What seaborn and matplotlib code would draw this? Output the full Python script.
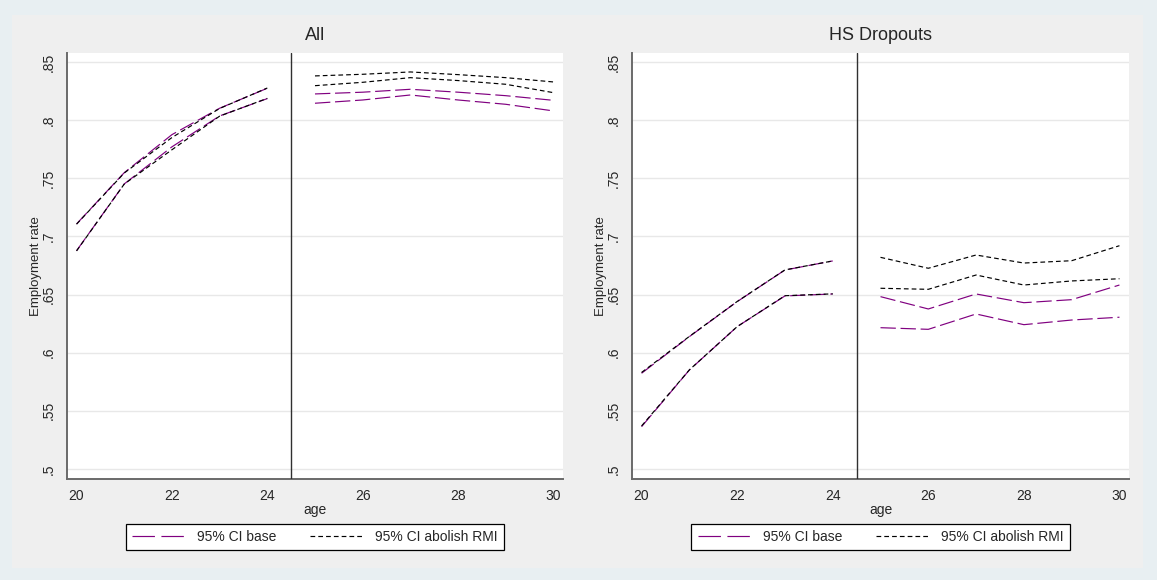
import matplotlib
matplotlib.use("Agg")
import matplotlib.pyplot as plt
from matplotlib.lines import Line2D
from matplotlib.patches import Rectangle
import seaborn as sns
import pandas as pd

# ---------------- data ----------------
ages_pre = [20, 21, 22, 23, 24]
ages_post = [25, 26, 27, 28, 29, 30]

# Panel "All"
all_base_hi_pre = [0.7107, 0.7548, 0.7875, 0.8102, 0.8274]
all_base_lo_pre = [0.6877, 0.7451, 0.7770, 0.8036, 0.8185]
all_rmi_hi_pre = [0.7105, 0.7545, 0.7850, 0.8100, 0.8276]
all_rmi_lo_pre = [0.6875, 0.7450, 0.7745, 0.8034, 0.8187]
all_base_hi_post = [0.8225, 0.8240, 0.8265, 0.8240, 0.8210, 0.8170]
all_base_lo_post = [0.8145, 0.8173, 0.8216, 0.8173, 0.8136, 0.8079]
all_rmi_hi_post = [0.8380, 0.8394, 0.8414, 0.8391, 0.8365, 0.8328]
all_rmi_lo_post = [0.8296, 0.8325, 0.8365, 0.8340, 0.8308, 0.8236]

# Panel "HS Dropouts"
hs_base_hi_pre = [0.5823, 0.6138, 0.6439, 0.6711, 0.6789]
hs_base_lo_pre = [0.5364, 0.5851, 0.6224, 0.6488, 0.6505]
hs_rmi_hi_pre = [0.5830, 0.6140, 0.6440, 0.6712, 0.6789]
hs_rmi_lo_pre = [0.5370, 0.5852, 0.6224, 0.6490, 0.6506]
hs_base_hi_post = [0.6482, 0.6376, 0.6505, 0.6430, 0.6456, 0.6582]
hs_base_lo_post = [0.6215, 0.6201, 0.6333, 0.6241, 0.6281, 0.6305]
hs_rmi_hi_post = [0.6820, 0.6726, 0.6840, 0.6771, 0.6791, 0.6920]
hs_rmi_lo_post = [0.6554, 0.6545, 0.6668, 0.6582, 0.6617, 0.6636]

titles = ["All", "HS Dropouts"]
legend_labels = ["95% CI base", "95% CI abolish RMI"]
y_ticks = [0.5, 0.55, 0.6, 0.65, 0.7, 0.75, 0.8, 0.85]
y_tick_labels = [".5", ".55", ".6", ".65", ".7", ".75", ".8", ".85"]
x_ticks = [20, 22, 24, 26, 28, 30]
cutoff_age = 24.5


def build_frame(base_hi_pre, base_lo_pre, rmi_hi_pre, rmi_lo_pre,
                base_hi_post, base_lo_post, rmi_hi_post, rmi_lo_post):
    rows = []
    spec = [
        ("base", "hi_pre", ages_pre, base_hi_pre),
        ("base", "lo_pre", ages_pre, base_lo_pre),
        ("base", "hi_post", ages_post, base_hi_post),
        ("base", "lo_post", ages_post, base_lo_post),
        ("rmi", "hi_pre", ages_pre, rmi_hi_pre),
        ("rmi", "lo_pre", ages_pre, rmi_lo_pre),
        ("rmi", "hi_post", ages_post, rmi_hi_post),
        ("rmi", "lo_post", ages_post, rmi_lo_post),
    ]
    for series, seg, ages, vals in spec:
        for a, v in zip(ages, vals):
            rows.append({"age": a, "value": v, "series": series,
                         "unit": series + "_" + seg})
    return pd.DataFrame(rows)


frames = [
    build_frame(all_base_hi_pre, all_base_lo_pre, all_rmi_hi_pre, all_rmi_lo_pre,
                all_base_hi_post, all_base_lo_post, all_rmi_hi_post, all_rmi_lo_post),
    build_frame(hs_base_hi_pre, hs_base_lo_pre, hs_rmi_hi_pre, hs_rmi_lo_pre,
                hs_base_hi_post, hs_base_lo_post, hs_rmi_hi_post, hs_rmi_lo_post),
]

# ---------------- style ----------------
sns.set_style("white")
plt.rcParams["font.family"] = ["Liberation Sans", "DejaVu Sans"]

PURPLE = "#800080"
BLACK = "#000000"
base_dash = (0, (13, 4))
rmi_dash = (0, (4, 2.6))
legend_base_dash = (0, (19, 5.5))
LW = 0.85

W, H = 1157, 580
fig = plt.figure(figsize=(W / 100, H / 100), dpi=100)
fig.patch.set_facecolor("#e8eff2")
bg = Rectangle((12 / W, 12 / H), (1143 - 12) / W, (565 - 12) / H,
               transform=fig.transFigure, facecolor="#efefef",
               edgecolor="none", zorder=-10)
fig.patches.append(bg)

ax_positions = [
    [67 / W, (580 - 479) / H, (563 - 67) / W, 426 / H],
    [632 / W, (580 - 479) / H, (1129 - 632) / W, 426 / H],
]

for i, df in enumerate(frames):
    ax = fig.add_axes(ax_positions[i])
    ax.set_zorder(1)
    ax.set_facecolor("white")

    sns.lineplot(data=df[df["series"] == "base"], x="age", y="value",
                 units="unit", estimator=None, sort=False, ax=ax,
                 color=PURPLE, linestyle=base_dash, linewidth=LW, legend=False)
    sns.lineplot(data=df[df["series"] == "rmi"], x="age", y="value",
                 units="unit", estimator=None, sort=False, ax=ax,
                 color=BLACK, linestyle=rmi_dash, linewidth=LW, legend=False)

    ax.axvline(cutoff_age, color="#303030", linewidth=1.0, zorder=3)

    ax.set_xlim(19.8, 30.2)
    ax.set_ylim(0.4914, 0.8577)
    ax.set_yticks(y_ticks)
    ax.set_yticklabels(y_tick_labels, rotation=90, va="center")
    ax.set_xticks(x_ticks)
    ax.set_xticklabels([str(t) for t in x_ticks])
    ax.grid(axis="y", color="#e8e8e8", linewidth=1.0)
    ax.grid(axis="x", visible=False)
    ax.set_axisbelow(True)

    for s in ["top", "right"]:
        ax.spines[s].set_visible(False)
    for s in ["left", "bottom"]:
        ax.spines[s].set_color("#6a6a6a")
        ax.spines[s].set_linewidth(1.4)
    ax.tick_params(axis="both", direction="out", length=5, width=1.0,
                   color="#6a6a6a", labelsize=10, pad=3)
    ax.tick_params(axis="x", pad=2)

    ax.set_xlabel("age", fontsize=10, labelpad=0)
    ax.set_ylabel("Employment rate", fontsize=9.5, labelpad=0)
    ax.set_title(titles[i], fontsize=13, pad=9)

    handles = [
        Line2D([0], [0], color=PURPLE, linestyle=legend_base_dash, linewidth=LW),
        Line2D([0], [0], color=BLACK, linestyle=rmi_dash, linewidth=LW),
    ]
    leg = ax.legend(handles, legend_labels, loc="upper center",
                    bbox_to_anchor=(0.5, -0.105), ncol=2, frameon=True,
                    fancybox=False, framealpha=1, edgecolor="black",
                    fontsize=10, handlelength=3.8, handletextpad=0.9,
                    columnspacing=2.4, borderpad=0.45, borderaxespad=0)
    leg.get_frame().set_linewidth(0.9)

fig.savefig("out.png", dpi=100, facecolor=fig.get_facecolor())
